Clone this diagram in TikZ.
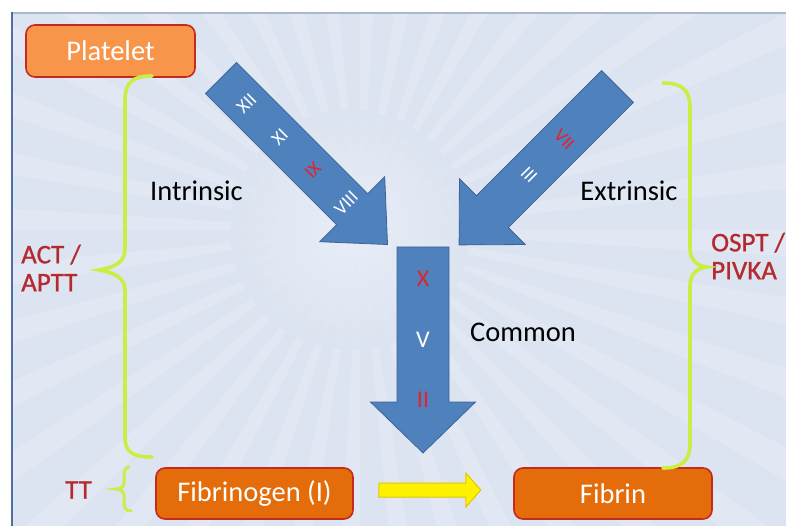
\documentclass[tikz,border=0pt]{standalone}
\usepackage{fontspec}
\setmainfont{Carlito}
\newfontfamily\testfont[FakeBold=0.9]{Carlito}
\usetikzlibrary{calc}

\definecolor{slidebg}{HTML}{DCE4F1}
\definecolor{raylight}{HTML}{EBF0F8}
\definecolor{frameleft}{HTML}{4F6F9F}
\definecolor{frametop}{HTML}{A9B9D2}
\definecolor{arrowblue}{HTML}{4F81BD}
\definecolor{arrowedge}{HTML}{3C6496}
\definecolor{factorred}{HTML}{E2222C}
\definecolor{testred}{HTML}{B42A2E}
\definecolor{lightorange}{HTML}{F7964A}
\definecolor{darkorange}{HTML}{E46C0A}
\definecolor{boxedge}{HTML}{C42A1E}
\definecolor{bracegreen}{HTML}{CCEE44}
\definecolor{flowyellow}{HTML}{FFF200}
\definecolor{flowedge}{HTML}{E6C400}

\begin{document}
\begin{tikzpicture}[x=1pt,y=-1pt,
  stagebox/.style={draw=boxedge, line width=1.6pt, rounded corners=9pt,
    text=white, font=\fontsize{28.5}{30}\selectfont, inner sep=0pt},
  pathway/.style={draw=arrowedge, line width=0.8pt, fill=arrowblue},
  factor/.style={font=\fontsize{19}{21}\selectfont, inner sep=0pt},
  bigfactor/.style={font=\fontsize{24}{26}\selectfont, inner sep=0pt},
  pathname/.style={font=\fontsize{28.5}{30}\selectfont, text=black, inner sep=0pt},
  testlabel/.style={font=\testfont\fontsize{27}{28}\selectfont, text=testred, inner sep=0pt, align=left},
  brace/.style={draw=bracegreen, line width=3.6pt, line cap=round},
  flow/.style={draw=flowedge, line width=1pt, fill=flowyellow}
]
\useasboundingbox (0,0) rectangle (786,526);

% slide background with faint rays
\fill[white] (0,0) rectangle (786,526);
\fill[slidebg] (12,12) rectangle (786,526);
\begin{scope}
  \clip (13,14) rectangle (786,526);
  \foreach \a in {0,9,...,351}
    \fill[white, opacity=0.18] (360,230) -- ($(360,230)+(\a:650)$) -- ($(360,230)+(\a+3.5:650)$) -- cycle;
  \shade[inner color=raylight, outer color=slidebg, opacity=0.8] (350,230) circle (120);
\end{scope}
\draw[frametop, line width=1.5pt] (12,13) -- (786,13);
\draw[frameleft, line width=2.5pt] (12,12) -- (12,526);

% stage boxes
\node[stagebox, fill=lightorange, minimum width=169pt, minimum height=52pt] (platelet) at (110.5,51) {Platelet};
\node[stagebox, fill=darkorange, minimum width=197pt, minimum height=51pt] (fibrinogen) at (254.5,493.5) {Fibrinogen (I)};
\node[stagebox, fill=darkorange, minimum width=198pt, minimum height=51pt] (fibrin) at (613,493.5) {Fibrin};

% conversion arrow between the two boxes
\path (fibrinogen.east) ++(25,-3.5) coordinate (flowstart);
\draw[flow] (flowstart) ++(0,-7) -- ++(87,0) -- ++(0,-10) -- ++(15,17) -- ++(-15,17) -- ++(0,-10) -- ++(-87,0) -- cycle;

% intrinsic pathway
\begin{scope}[shift={(221,78)}, rotate=45]
  \draw[pathway] (-22,0) -- (22,0) -- (22,185.5) -- (46,185.5) -- (0,235.5) -- (-46,185.5) -- (-22,185.5) -- cycle;
  \node[factor, text=white, rotate=45] (f12) at (0,36) {XII};
  \node[factor, text=white, rotate=45] (f11) at (0,83) {XI};
  \node[factor, text=factorred, rotate=45] (f9) at (0,130) {IX};
  \node[factor, text=white, rotate=45] (f8) at (0,177) {VIII};
\end{scope}

% extrinsic pathway
\begin{scope}[shift={(617.5,86.5)}, rotate=-45]
  \draw[pathway] (-22.5,0) -- (22.5,0) -- (22.5,177) -- (46.5,177) -- (0,224) -- (-46.5,177) -- (-22.5,177) -- cycle;
  \node[factor, text=factorred, rotate=-45] (f7) at (0,75) {VII};
  \node[factor, text=white, rotate=-45] (f3) at (0,125) {III};
\end{scope}

% common pathway
\begin{scope}[shift={(423,247)}]
  \draw[pathway] (-26,0) -- (26,0) -- (26,155) -- (52.5,155) -- (0,206) -- (-52.5,155) -- (-26,155) -- cycle;
  \node[bigfactor, text=factorred] (f10) at (0,32) {X};
  \node[bigfactor, text=white] (f5) at (0,93) {V};
  \node[bigfactor, text=factorred] (f2) at (0,153) {II};
\end{scope}

% pathway names
\node[pathname] (intrinsic) at (196.5,191) {Intrinsic};
\node[pathname] (extrinsic) at (629,191) {Extrinsic};
\node[pathname] (common) at (523,332) {Common};

% laboratory tests
\node[testlabel, anchor=west] (act) at (21,268) {ACT /\\APTT};
\node[testlabel, anchor=west] (ospt) at (711,256) {OSPT /\\PIVKA};
\node[testlabel, anchor=west] (tt) at (65,490) {TT};

% braces
\draw[brace] (152,76) .. controls (132,76) and (125,83) .. (125,100) -- (125,250)
  .. controls (125,263) and (112,268) .. (99,270)
  .. controls (112,272) and (125,277) .. (125,290) -- (125,437)
  .. controls (125,452) and (132,457) .. (152,457);
\draw[brace, line width=3pt] (129,467) .. controls (125,468) and (124,471) .. (124,476) -- (124,483)
  .. controls (124,487) and (120,489) .. (116,489)
  .. controls (120,489) and (124,491) .. (124,496) -- (124,503)
  .. controls (124,508) and (126,511) .. (131,511);
\draw[brace] (663,83) .. controls (682,83) and (690,90) .. (690,108) -- (690,248)
  .. controls (690,260) and (697,266) .. (707,267)
  .. controls (697,268) and (690,274) .. (690,286) -- (690,443)
  .. controls (690,461) and (682,468) .. (663,468);
\end{tikzpicture}
\end{document}
